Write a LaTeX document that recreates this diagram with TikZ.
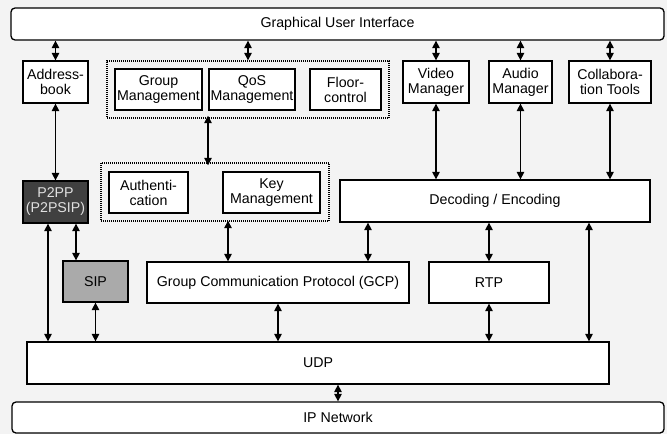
\documentclass[tikz,border=0pt]{standalone}
\usepackage{fontspec}
\setmainfont{Liberation Sans}
\usetikzlibrary{arrows.meta}
\definecolor{bgc}{HTML}{F3F3F3}
\definecolor{darkfill}{HTML}{404040}
\definecolor{sipfill}{HTML}{AAAAAA}
\begin{document}
\begin{tikzpicture}[x=1pt,y=-1pt,
  box/.style={draw=black,line width=1.3pt,fill=white,inner sep=0pt,align=center,font=\fontsize{14.2}{15}\selectfont},
  grp/.style={draw=black,line width=1.4pt,dash pattern=on 1pt off 1pt,inner sep=0pt},
  dbl/.style={line width=1.4pt,{Triangle[length=7.5pt,width=7.5pt]}-{Triangle[length=7.5pt,width=7.5pt]}},
]
\fill[bgc] (0,0) rectangle (667,434);
\useasboundingbox (0,0) rectangle (667,434);
% helper: box by corners
\newcommand{\mybox}[6][]{\node[box,#1,minimum width={#4-#2},minimum height={#5-#3}] (#6) at ({(#2+#4)/2},{(#3+#5)/2})}
\mybox[rounded corners=4pt]{11}{8}{664}{40}{gui} {Graphical User Interface};
\mybox{23}{61}{88}{103}{addr} {Address-\\book};
\node[grp,minimum width=282,minimum height=57] (g1) at (248,89.5) {};
\mybox{115}{69}{202}{110}{gm} {Group\\Management};
\mybox{209}{69}{295}{110}{qos} {QoS\\Management};
\mybox{310}{69}{381}{110}{floor} {Floor-\\control};
\mybox{403}{61}{469}{103}{video} {Video\\Manager};
\mybox{489}{61}{552}{103}{audio} {Audio\\Manager};
\mybox{569}{61}{651}{103}{collab} {Collabora-\\tion Tools};
\node[grp,minimum width=228,minimum height=58] (g2) at (215,192) {};
\mybox{109}{172}{188}{213}{auth} {Authenti-\\cation};
\mybox{223}{172}{320}{213}{key} {Key\\Management};
\mybox{340}{180}{650}{222}{dec} {Decoding / Encoding};
\mybox[fill=darkfill,text=white!88!black]{23}{181}{88}{223}{p2pp} {P2PP\\(P2PSIP)};
\mybox[fill=sipfill]{63}{261}{128}{302}{sip} {SIP};
\mybox{147}{262}{409}{303}{gcp} {Group Communication Protocol (GCP)};
\mybox{429}{262}{549}{303}{rtp} {RTP};
\mybox{27}{342}{609}{384}{udp} {UDP};
\mybox[rounded corners=4pt]{12}{402}{664}{433}{ip} {IP Network};
% x positions of off-centre connectors
\coordinate (xa) at (208,0);
\coordinate (xb) at (76,0);
\coordinate (xc) at (48,0);
\coordinate (xd) at (228,0);
\coordinate (xe) at (368,0);
\coordinate (xf) at (589,0);
\coordinate (xg) at (338,0);
% connectors
\draw[dbl] (addr.north) -- (addr.north |- gui.south);
\draw[dbl] (g1.north) -- (g1.north |- gui.south);
\draw[dbl] (video.north) -- (video.north |- gui.south);
\draw[dbl] (audio.north) -- (audio.north |- gui.south);
\draw[dbl] (collab.north) -- (collab.north |- gui.south);
\draw[dbl] (addr.south) -- (p2pp.north);
\draw[dbl] (video.south) -- (video.south |- dec.north);
\draw[dbl] (audio.south) -- (audio.south |- dec.north);
\draw[dbl] (collab.south) -- (collab.south |- dec.north);
\draw[dbl] ([yshift=3pt]g1.south -| xa) -- ([yshift=-3pt]g2.north -| xa);
\draw[dbl] (p2pp.south -| xb) -- (sip.north -| xb);
\draw[dbl] (p2pp.south -| xc) -- (udp.north -| xc);
\draw[dbl] (sip.south) -- (sip.south |- udp.north);
\draw[dbl] ([yshift=1pt]g2.south -| xd) -- (gcp.north -| xd);
\draw[dbl] (dec.south -| xe) -- (gcp.north -| xe);
\draw[dbl] (gcp.south) -- (gcp.south |- udp.north);
\draw[dbl] (dec.south -| rtp) -- (rtp.north);
\draw[dbl] (rtp.south) -- (rtp.south |- udp.north);
\draw[dbl] (dec.south -| xf) -- (udp.north -| xf);
\draw[dbl] (udp.south -| xg) -- (ip.north -| xg);
\end{tikzpicture}
\end{document}
